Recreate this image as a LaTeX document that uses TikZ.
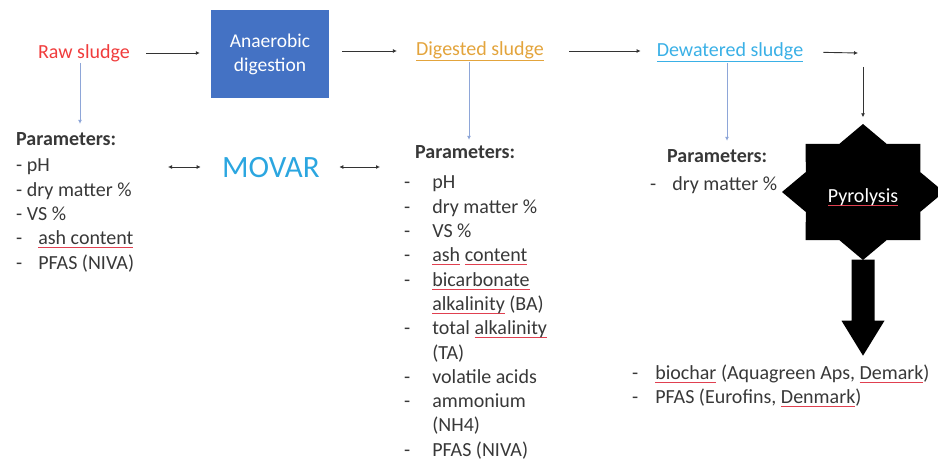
\documentclass[tikz,border=0pt]{standalone}
\usepackage{fontspec}
\setmainfont{Carlito}
\usetikzlibrary{arrows.meta}

\definecolor{rawred}{HTML}{F03C3C}
\definecolor{digold}{HTML}{E3A43C}
\definecolor{dewblue}{HTML}{3AB0E6}
\definecolor{movblue}{HTML}{2BA6E0}
\definecolor{adblue}{HTML}{4472C4}
\definecolor{paramgray}{HTML}{383838}
\definecolor{linkblue}{HTML}{8EA6D8}
\definecolor{spellred}{HTML}{E04050}

% red spell-check line under a word
\newsavebox\spellbox
\newcommand\spell[1]{\sbox\spellbox{#1}\rlap{\textcolor{spellred}{\rule[-3.5pt]{\wd\spellbox}{1pt}}}\usebox\spellbox}

\tikzset{
    stage/.style={font=\fontsize{20}{24}\selectfont, inner sep=1pt},
    process/.style={fill=adblue, text=white, minimum width=118pt, minimum height=88pt,
        align=center, font=\fontsize{19.5}{24}\selectfont},
    flow/.style={draw=black!80, line width=0.9pt, -{Latex[length=4pt,width=4pt]}},
    probe/.style={draw=linkblue, line width=0.9pt, -{Latex[length=4pt,width=4pt]}},
    link/.style={draw=black!80, line width=0.9pt, {Latex[length=4pt,width=4pt]}-{Latex[length=4pt,width=4pt]}},
    params/.style={anchor=base west, inner sep=0pt, text=paramgray, font=\fontsize{20}{24.3}\selectfont}
}

\begin{document}
\begin{tikzpicture}[x=1pt, y=-1pt]
    \useasboundingbox (0,0) rectangle (938,476);

    % main line
    \node[stage, text=rawred] (raw) at (84,53) {Raw sludge};
    \node[process] (ad) at (270,54) {Anaerobic\\digestion};
    \node[stage, text=digold] (dig) at (480,51) {\underline{Digested sludge}};
    \node[stage, text=dewblue] (dew) at (730,52) {\underline{Dewatered sludge}};
    \coordinate (turn) at (858,53);
    \coordinate (drop) at (863,67);

    \draw[flow, shorten <=15pt, shorten >=11pt] (raw.east) -- (raw.east -| ad.west);
    \draw[flow, shorten <=13pt, shorten >=18pt] (ad.east |- dig.west) -- (dig.west);
    \draw[flow, shorten <=24pt, shorten >=15pt] (dig.east) -- (dig.east -| dew.west);
    \draw[flow, shorten <=19pt] (dew.east) -- (turn);

    % parameters
    \node[params] (rawpar) at (16,146) {\textbf{Parameters:}};
    \node[params] (rawlist) at (16,172) {\begin{tabular}[t]{@{}l@{}}
        - pH\\
        - dry matter \%\\
        - VS \%\\
        -\hspace{16pt}\spell{ash content}\\
        -\hspace{16pt}PFAS (NIVA)
    \end{tabular}};

    \node[params] (digpar) at (415,159) {\textbf{Parameters:}};
    \node[params] (diglist) at (404,189) {\begin{tabular}[t]{@{}l@{\hspace{22pt}}l@{}}
        - & pH\\
        - & dry matter \%\\
        - & VS \%\\
        - & \spell{ash} \spell{content}\\
        - & \spell{bicarbonate}\\
          & \spell{alkalinity} (BA)\\
        - & total \spell{alkalinity}\\
          & (TA)\\
        - & volatile acids\\
        - & ammonium\\
          & (NH4)\\
        - & PFAS (NIVA)
    \end{tabular}};

    \node[params] (dewpar) at (667,163) {\textbf{Parameters:}};
    \node[params] (dewlist) at (650,191) {\begin{tabular}[t]{@{}l@{\hspace{16pt}}l@{}}
        - & dry matter \%
    \end{tabular}};

    \draw[probe, shorten >=9pt] ([xshift=-4pt]raw.south) -- ([xshift=-4pt]raw.south |- rawpar.north);
    \draw[probe, shorten >=6pt] ([xshift=-11pt]dig.south) -- ([xshift=-11pt]dig.south |- digpar.north);
    \draw[probe, shorten >=9pt] ([xshift=-3pt]dew.south) -- ([xshift=-3pt]dew.south |- dewpar.north);

    % MOVAR
    \node[font=\fontsize{31}{34}\selectfont, text=movblue] (movar) at (271,168) {MOVAR};
    \coordinate (movl) at (168,167);
    \coordinate (movr) at (380,167);
    \draw[link, shorten >=18pt] (movl) -- (movl -| movar.west);
    \draw[link, shorten <=16pt] (movr -| movar.east) -- (movr);

    % pyrolysis
    \coordinate (pyc) at (863,192);
    \fill[black, shift={(pyc)}] (81,0)
        \foreach \a [evaluate=\a as \r using {int(mod(round(\a/22.5),2))==0 ? 1 : 0.765}]
            in {22.5,45,...,337.5} { -- ({81*\r*cos(\a)},{68*\r*sin(\a)}) } -- cycle;
    \node[minimum width=162pt, minimum height=135pt] (pyro) at (pyc) {};
    \node[stage, text=white] (pyrotext) at ([yshift=-5pt]pyro.center) {\spell{Pyrolysis}};
    \draw[flow, shorten >=7pt] (drop) -- (pyro.north);
    \fill[black] ([xshift=-11.5pt]pyro.south) -- ++(0,61) -- ++(-10,0) -- ++(21.5,35)
        -- ++(21.5,-35) -- ++(-10,0) -- ++(0,-61) -- cycle;

    \node[params] (char) at (632,379) {\begin{tabular}[t]{@{}l@{\hspace{17pt}}l@{}}
        - & \spell{biochar} (Aquagreen Aps, \spell{Demark})\\
        - & PFAS (Eurofins, \spell{Denmark})
    \end{tabular}};
\end{tikzpicture}
\end{document}
